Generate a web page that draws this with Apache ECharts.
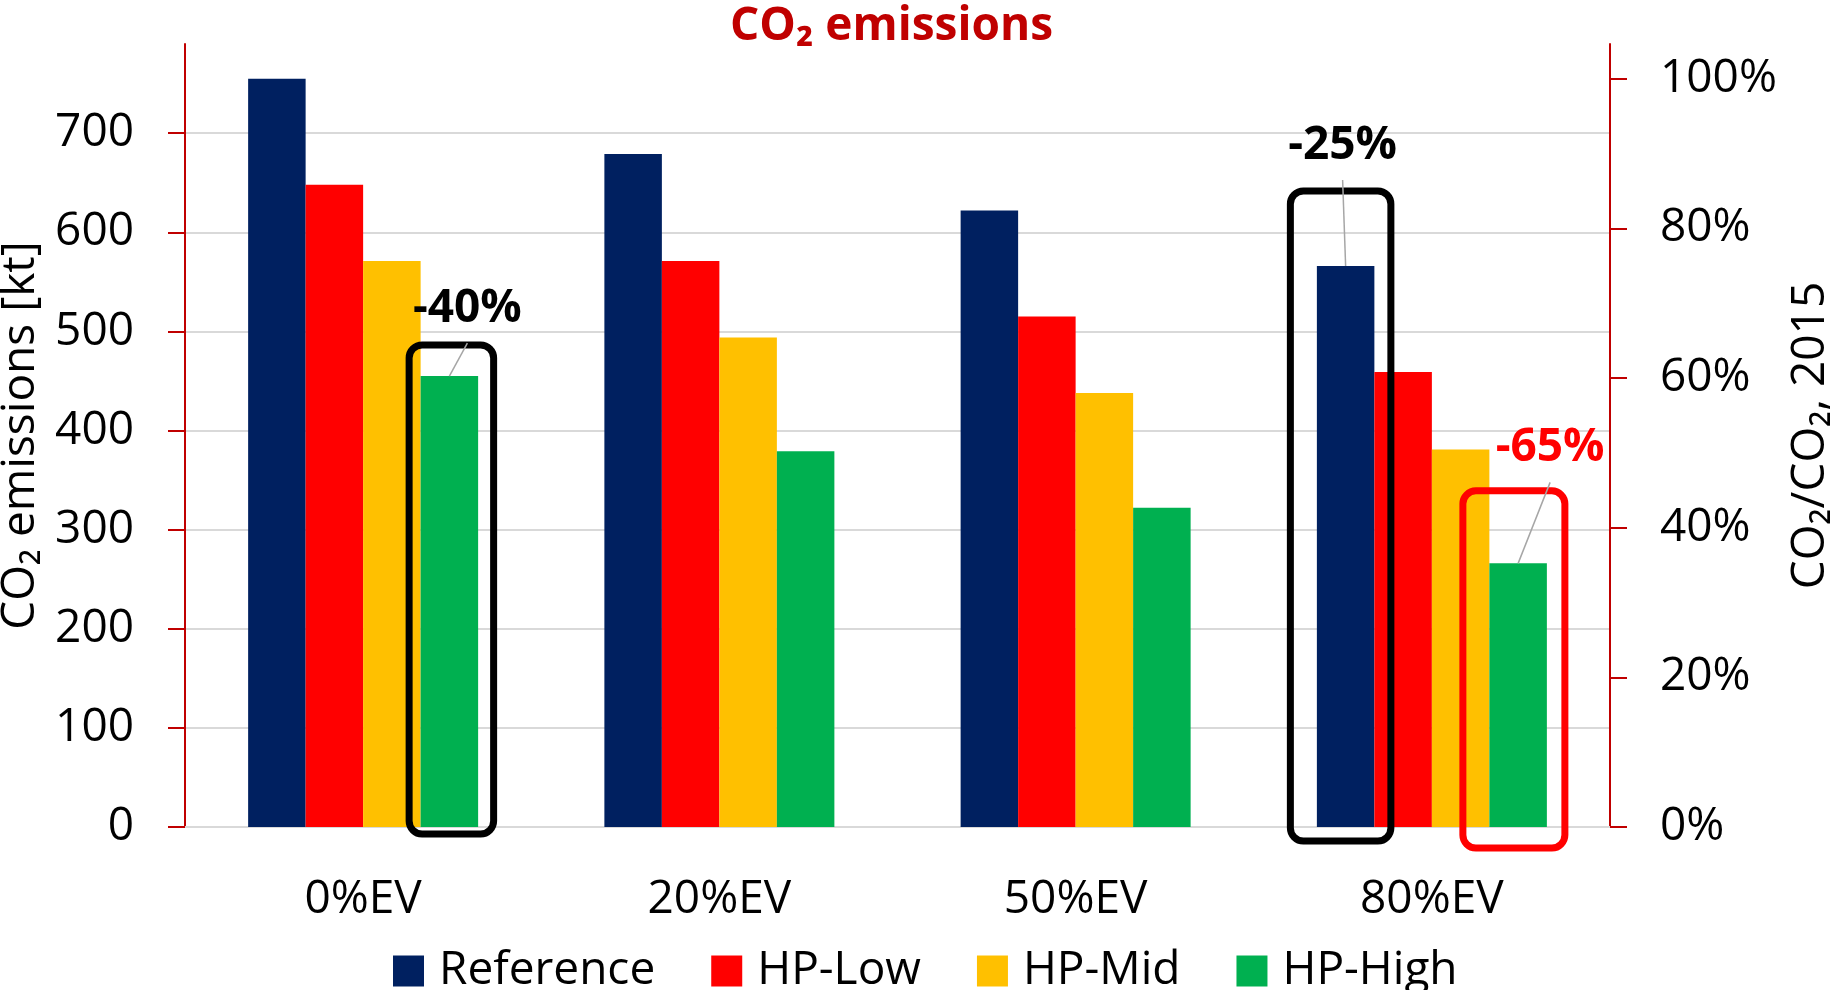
<!DOCTYPE html>
<html>
<head>
<meta charset="utf-8">
<script src="https://cdn.jsdelivr.net/npm/echarts@6/dist/echarts.min.js"></script>
<style>
  html, body { margin: 0; padding: 0; background: #fff; }
  #chart { width: 1833px; height: 990px; }
</style>
</head>
<body>
<div id="chart"></div>
<script>
const categories = ['0%EV', '20%EV', '50%EV', '80%EV'];
const seriesNames = ['Reference', 'HP-Low', 'HP-Mid', 'HP-High'];
const reference = [755, 679, 622, 566];
const hpLow = [648, 571, 515, 459];
const hpMid = [571, 494, 438, 381];
const hpHigh = [455, 379, 322, 266];
const leftTicks = [0, 100, 200, 300, 400, 500, 600, 700];
const rightTicks = [0, 20, 40, 60, 80, 100];
const leftMax = 790;

// highlighted bars: [seriesIndex, categoryIndex]
const highlights = [
  { series: 3, cat: 0, color: '#000000', pad: [31, 15.5, 7, 11.5], label: [18, -67] },
  { series: 0, cat: 3, color: '#000000', pad: [75, 16.5, 14, 26.5], label: [-3, -120] },
  { series: 3, cat: 3, color: '#FF0000', pad: [72.5, 18, 21, 26.5], label: [32, -115] },
];

const FONT = '"Open Sans", "Noto Sans", sans-serif';
const colors = ['#002060', '#FF0000', '#FFC000', '#00B050'];
const values = [reference, hpLow, hpMid, hpHigh];
const base = reference[0];

const chart = echarts.init(document.getElementById('chart'), null, { renderer: 'canvas' });

const option = {
  animation: false,
  textStyle: { fontFamily: FONT },
  title: {
    text: 'CO₂ emissions',
    left: 730,
    top: 4,
    padding: 0,
    textStyle: { color: '#C00000', fontSize: 46, fontWeight: 'bold', fontFamily: FONT },
  },
  legend: {
    data: seriesNames,
    left: 393,
    top: 948,
    padding: 0,
    icon: 'rect',
    itemWidth: 31,
    itemHeight: 31,
    itemGap: 56,
    textStyle: { fontSize: 46, color: '#000', fontFamily: FONT, padding: [0, 0, 0, 10] },
  },
  grid: { left: 185, right: 223, top: 44, bottom: 163, containLabel: false, outerBoundsMode: 'none' },
  xAxis: {
    type: 'category',
    data: categories,
    axisLine: { lineStyle: { color: '#d9d9d9', width: 2 } },
    axisTick: { show: false },
    axisLabel: { fontSize: 46, color: '#000', margin: 50, fontFamily: FONT },
  },
  yAxis: [
    {
      type: 'value',
      min: 0,
      max: leftMax,
      interval: 100,
      name: 'CO₂ emissions [kt]',
      nameLocation: 'middle',
      nameRotate: 90,
      nameGap: 131,
      nameTextStyle: { fontSize: 46, color: '#000', fontFamily: FONT },
      axisLine: { show: true, lineStyle: { color: '#C00000', width: 2 } },
      axisTick: { show: true, length: 17, customValues: leftTicks, lineStyle: { color: '#C00000', width: 2 } },
      axisLabel: { fontSize: 46, color: '#000', margin: 51, customValues: leftTicks, fontFamily: FONT },
      splitLine: { show: true, customValues: leftTicks, lineStyle: { color: '#d9d9d9', width: 2 } },
    },
    {
      type: 'value',
      position: 'right',
      min: 0,
      max: leftMax / base * 100,
      name: 'CO₂/CO₂, 2015',
      nameLocation: 'middle',
      nameRotate: 90,
      nameGap: 174,
      nameTextStyle: { fontSize: 46, color: '#000', fontFamily: FONT },
      axisLine: { show: true, lineStyle: { color: '#C00000', width: 2 } },
      axisTick: { show: true, length: 17, customValues: rightTicks, lineStyle: { color: '#C00000', width: 2 } },
      axisLabel: { fontSize: 46, color: '#000', margin: 50, customValues: rightTicks, formatter: '{value}%', fontFamily: FONT },
      splitLine: { show: false },
    },
  ],
  series: seriesNames.map((name, i) => ({
    name,
    type: 'bar',
    data: values[i],
    barWidth: 57.5,
    barGap: '0%',
    itemStyle: { color: colors[i] },
  })),
};

chart.setOption(option);

// boxes, labels and leader lines around highlighted bars
const graphics = [];
highlights.forEach((h) => {
  const layout = chart.getModel().getSeriesByIndex(h.series).getData().getItemLayout(h.cat);
  const x0 = layout.x;
  const x1 = layout.x + layout.width;
  const baseY = Math.max(layout.y, layout.y + layout.height);
  const topY = Math.min(layout.y, layout.y + layout.height);
  const cx = (x0 + x1) / 2;
  const [pt, pr, pb, pl] = h.pad;
  graphics.push({
    type: 'rect',
    shape: { x: x0 - pl, y: topY - pt, width: x1 - x0 + pl + pr, height: baseY + pb - (topY - pt), r: 13 },
    style: { fill: 'none', stroke: h.color, lineWidth: 7 },
    z: 10,
  });
  const lx = cx + h.label[0];
  const ly = topY + h.label[1];
  const pct = Math.round((values[h.series][h.cat] / base - 1) * 100);
  graphics.push({
    type: 'line',
    shape: { x1: cx, y1: topY, x2: lx, y2: ly + 34 },
    style: { stroke: '#a6a6a6', lineWidth: 1.5 },
    z: 11,
  });
  graphics.push({
    type: 'text',
    x: lx,
    y: ly,
    style: {
      text: pct + '%',
      align: 'center',
      verticalAlign: 'middle',
      font: 'bold 46px ' + FONT,
      fill: h.color === '#000000' ? '#000' : '#FF0000',
    },
    z: 12,
  });
});
chart.setOption({ graphic: graphics });
</script>
</body>
</html>
